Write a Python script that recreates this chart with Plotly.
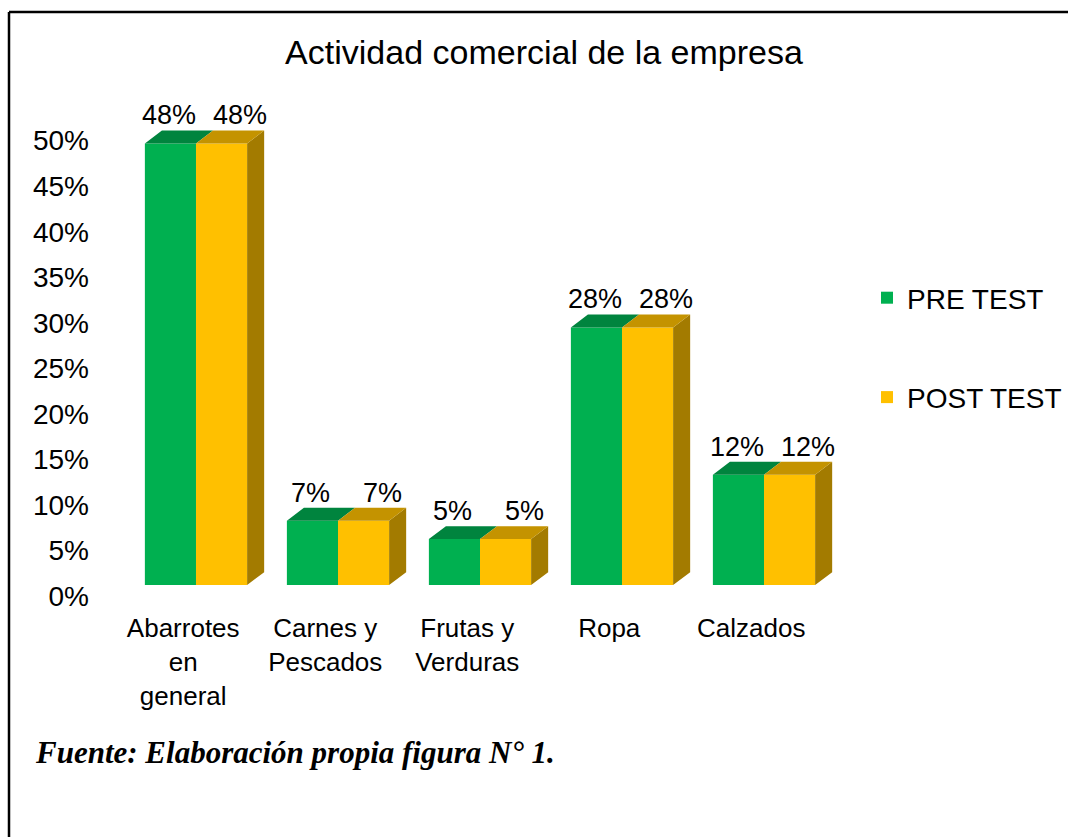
import plotly.graph_objects as go

categories = ["Abarrotes<br>en<br>general", "Carnes y<br>Pescados", "Frutas y<br>Verduras", "Ropa", "Calzados"]
pre_test = [48, 7, 5, 28, 12]
post_test = [48, 7, 5, 28, 12]
y_ticks = [0, 5, 10, 15, 20, 25, 30, 35, 40, 45, 50]
y_tick_labels = [f"{t}%" for t in y_ticks]

GREEN, GREEN_TOP = "#00B050", "#00843E"
YELLOW, YELLOW_TOP, YELLOW_SIDE = "#FFC000", "#C49300", "#A37B00"

W = 0.36      # bar width (category units)
DX = 0.12     # depth offset x (category units)
DY = 1.4      # depth offset y (percent units)
FONT = "Liberation Sans, Arial, sans-serif"

# plot area in pixels
L, R, T, B = 100, 860, 100, 605
XR = [-0.676, 4.676]
YR = [-2.17, 52.72]

def px2paper(px, py):
    return (px - L) / (R - L), 1 - (py - T) / (B - T)

fig = go.Figure()
idx = list(range(len(categories)))
gx = [i - W / 2 for i in idx]
yx = [i + W / 2 for i in idx]

fig.add_trace(go.Bar(x=gx, y=pre_test, width=W, base=0, name="PRE TEST",
                     marker=dict(color=GREEN, line=dict(width=0)), legendgroup="a"))
fig.add_trace(go.Bar(x=yx, y=post_test, width=W, base=0, name="POST TEST",
                     marker=dict(color=YELLOW, line=dict(width=0)), legendgroup="b"))

def top_faces(xs, vals):
    px, py = [], []
    for x, v in zip(xs, vals):
        x0, x1 = x - W / 2, x + W / 2
        px += [x0, x0 + DX, x1 + DX, x1, x0, None]
        py += [v, v + DY, v + DY, v, v, None]
    return px, py

def side_faces(xs, vals):
    px, py = [], []
    for x, v in zip(xs, vals):
        x1 = x + W / 2
        px += [x1, x1 + DX, x1 + DX, x1, x1, None]
        py += [0, DY, v + DY, v, 0, None]
    return px, py

for (fx, fy), col in [(top_faces(gx, pre_test), GREEN_TOP),
                      (side_faces(yx, post_test), YELLOW_SIDE),
                      (top_faces(yx, post_test), YELLOW_TOP)]:
    fig.add_trace(go.Scatter(x=fx, y=fy, fill="toself", fillcolor=col, mode="none",
                             showlegend=False, hoverinfo="skip"))

# data labels
for xs, vals, shift in [(gx, pre_test, -10), (yx, post_test, 10)]:
    for x, v in zip(xs, vals):
        fig.add_annotation(x=x + DX / 2, y=v, text=f"{v}%", showarrow=False,
                           xshift=shift, yshift=28, yanchor="middle",
                           font=dict(family=FONT, size=27, color="#000000"))

# footer
fx, fy = px2paper(33, 752)
fig.add_annotation(xref="paper", yref="paper", x=fx, y=fy, xanchor="left", yanchor="middle",
                   text="<b><i>Fuente: Elaboración propia figura N° 1.</i></b>", showarrow=False,
                   font=dict(family="Liberation Serif, Times New Roman, serif", size=31, color="#000000"))

# frame border
x0, y0 = px2paper(9, 12)
x1, y1 = px2paper(1080, 850)
fig.add_shape(type="line", xref="paper", yref="paper", x0=x0, y0=y1, x1=x0, y1=y0,
              line=dict(color="#000000", width=2.5))
fig.add_shape(type="line", xref="paper", yref="paper", x0=x0, y0=y0, x1=x1, y1=y0,
              line=dict(color="#000000", width=2.5))

tx, ty = px2paper(544, 52)
lx, ly = px2paper(867, 273)
fig.update_layout(
    width=1068, height=837,
    margin=dict(l=L, r=1068 - R, t=T, b=837 - B, autoexpand=False),
    paper_bgcolor="white", plot_bgcolor="white",
    barmode="overlay",
    title=dict(text="Actividad comercial de la empresa", x=tx, xref="paper", xanchor="center",
               y=1 - 52 / 837, yref="container", yanchor="middle",
               font=dict(family=FONT, size=34, color="#000000")),
    xaxis=dict(range=XR, tickmode="array", tickvals=[i - 0.09 for i in idx], ticktext=categories,
               showgrid=False, zeroline=False, showline=False, ticks="", ticklabelstandoff=5,
               tickfont=dict(family=FONT, size=26, color="#000000")),
    yaxis=dict(range=YR, tickmode="array", tickvals=[t * 0.99 - 1.2 for t in y_ticks],
               ticktext=y_tick_labels, showgrid=False, zeroline=False, showline=False, ticks="",
               ticklabelstandoff=10,
               tickfont=dict(family=FONT, size=28, color="#000000")),
    legend=dict(x=lx, y=ly, xanchor="left", yanchor="top", tracegroupgap=60,
                font=dict(family=FONT, size=28, color="#000000"), bgcolor="rgba(0,0,0,0)"),
    showlegend=True,
)

fig.write_html("out.html", config={"displayModeBar": False},
               post_script="document.body.style.margin='0';")
